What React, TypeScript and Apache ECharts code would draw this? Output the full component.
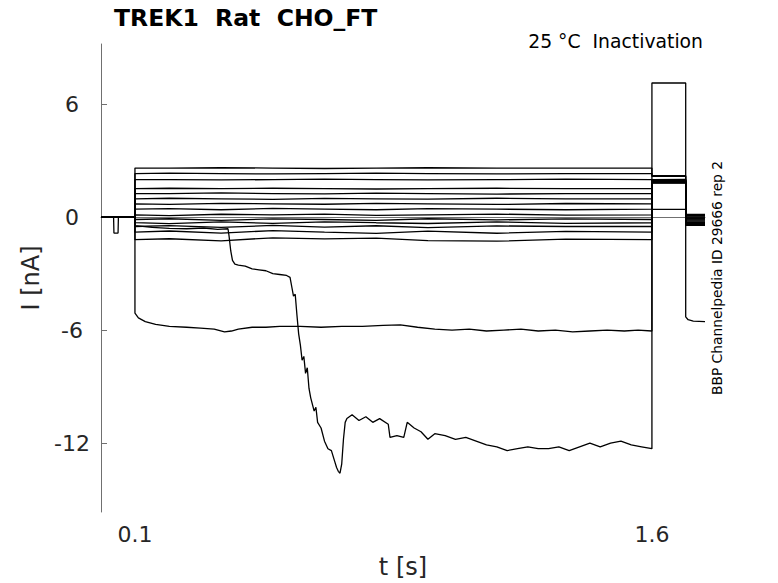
import React, { useEffect, useRef } from "react";
import * as echarts from "echarts";

// ---- axis ranges and tick values ----
const X_MIN = 0.0015;
const X_MAX = 1.754;
const Y_MIN = -15.66;
const Y_MAX = 9.19;
const xTicks = [0.1, 1.6];
const yTicks = [-12, -6, 0, 6];

// ---- protocol times (s) ----
const tOn = 0.1;
const tOff = 1.6;
const tTail = 1.698;

// ---- flat traces: level during step, after step, and tail ----
const stepLevels = [2.6, 2.31, 1.99, 1.51, 1.25, 0.97, 0.7, 0.42, 0.12, -0.13, -0.3, -0.5, -0.8, -1.2];
const postLevels = [2.2, 2.16, 2.0, 1.97, 1.93, 1.9, 1.87, 1.84, 1.8, 1.98, 1.95, 1.92, 1.88, 1.82];
const tailLevels = [0.14, 0.1, 0.05, 0.0, -0.05, -0.1, -0.15, -0.2, -0.25, -0.3, -0.35, -0.4, -0.44, 0.08];
const wiggleTimes = [0.2, 0.35, 0.5, 0.65, 0.8, 0.95, 1.15, 1.35];
const stepWiggle = [
  [0, 0.02, 0, -0.02, 0, 0.02, 0, 0],
  [0.02, 0, -0.02, 0, 0.02, 0, -0.02, 0],
  [0, -0.02, 0, 0.02, 0, -0.02, 0, 0.02],
  [0.02, 0, 0.02, 0, -0.02, 0, 0.02, 0],
  [0, 0.03, 0, -0.02, 0.02, 0, -0.03, 0],
  [0.03, 0, -0.03, 0.02, 0, -0.02, 0.03, 0],
  [-0.03, 0.03, 0, -0.02, 0.03, 0, -0.03, 0.02],
  [0.03, -0.03, 0.04, 0, -0.03, 0.03, 0, -0.03],
  [-0.04, 0.03, 0, 0.04, -0.03, 0, 0.04, -0.02],
  [0.04, -0.04, 0.03, 0, -0.04, 0.04, -0.02, 0.03],
  [-0.05, 0.04, -0.03, 0.05, 0, -0.04, 0.05, -0.03],
  [0.05, -0.05, 0.06, -0.03, 0.04, -0.06, 0.03, 0],
  [0.06, -0.05, 0.08, 0.0, -0.07, 0.05, -0.06, 0.04],
  [0.05, -0.06, 0.1, 0.04, 0.08, -0.05, -0.08, 0.03],
];

// ---- trace that settles near -6 nA ----
const midTimes = [0.1, 0.11, 0.13, 0.16, 0.2, 0.25, 0.29, 0.33, 0.36, 0.38, 0.4, 0.44, 0.48, 0.52, 0.58, 0.64, 0.7, 0.76, 0.82, 0.87, 0.92, 0.97, 1.02, 1.07, 1.12, 1.17, 1.22, 1.27, 1.32, 1.37, 1.42, 1.47, 1.52, 1.56, 1.6];
const midValues = [-5.1, -5.35, -5.55, -5.7, -5.8, -5.85, -5.9, -5.95, -6.1, -6.05, -5.95, -5.85, -5.85, -5.8, -5.8, -5.85, -5.8, -5.8, -5.75, -5.72, -5.85, -5.95, -6.0, -5.95, -6.05, -6.0, -5.95, -6.05, -6.0, -6.1, -6.05, -6.0, -6.05, -6.0, -6.05];
const midPost = 0.41;
const midTail = -0.1;

// ---- trace that collapses to about -12 nA ----
const bigTimes = [0.1, 0.15, 0.2, 0.25, 0.3, 0.34, 0.37, 0.373, 0.378, 0.383, 0.39, 0.4, 0.42, 0.44, 0.46, 0.48, 0.5, 0.52, 0.54, 0.55, 0.555, 0.56, 0.565, 0.57, 0.575, 0.58, 0.585, 0.59, 0.595, 0.6, 0.605, 0.61, 0.62, 0.625, 0.63, 0.64, 0.65, 0.66, 0.67, 0.68, 0.685, 0.69, 0.695, 0.7, 0.705, 0.71, 0.715, 0.73, 0.75, 0.77, 0.79, 0.81, 0.835, 0.84, 0.86, 0.88, 0.89, 0.91, 0.93, 0.95, 0.97, 1.0, 1.03, 1.06, 1.09, 1.12, 1.15, 1.18, 1.21, 1.24, 1.27, 1.3, 1.33, 1.36, 1.39, 1.42, 1.45, 1.48, 1.51, 1.54, 1.57, 1.6];
const bigValues = [-0.45, -0.55, -0.6, -0.62, -0.58, -0.65, -0.62, -1.0, -1.8, -2.3, -2.5, -2.55, -2.6, -2.75, -2.8, -2.85, -3.0, -3.05, -3.1, -3.2, -3.7, -4.2, -4.1, -5.2, -6.2, -6.8, -7.6, -7.4, -8.3, -8.0, -9.1, -9.6, -10.3, -10.1, -10.9, -11.2, -11.9, -12.3, -12.4, -13.0, -13.3, -13.5, -13.6, -13.1, -11.8, -10.9, -10.7, -10.5, -10.8, -10.6, -10.9, -10.7, -11.0, -11.7, -11.6, -11.7, -10.9, -11.2, -11.4, -11.8, -11.5, -11.6, -11.8, -11.7, -11.9, -12.1, -12.2, -12.4, -12.3, -12.2, -12.3, -12.3, -12.2, -12.4, -12.2, -12.0, -12.2, -12.0, -11.9, -12.1, -12.2, -12.3];
const bigPost = 7.12;
const bigTailTimes = [1.698, 1.705, 1.72, 1.754];
const bigTailValues = [-5.3, -5.45, -5.52, -5.55];

// ---- holding segment before the step ----
const holdLevel = 0;
const dipTimes = [0.038, 0.039, 0.051, 0.052];
const dipValues = [0, -0.85, -0.85, 0];

const FONT = "DejaVu Sans";
const TEXT = "#262626";
const AXIS = "#707070";

function buildSeries() {
  const series: any[] = [];
  const line = (data: number[][]) => ({
    type: "line",
    data,
    showSymbol: false,
    symbol: "none",
    silent: true,
    lineStyle: { color: "#000", width: 1.3 },
  });
  stepLevels.forEach((lvl, i) => {
    const d: number[][] = [[X_MIN, holdLevel], [tOn, holdLevel], [tOn, lvl]];
    wiggleTimes.forEach((t, k) => d.push([t, lvl + stepWiggle[i][k]]));
    d.push([tOff, lvl], [tOff, postLevels[i]], [tTail, postLevels[i]], [tTail, tailLevels[i]], [X_MAX, tailLevels[i]]);
    series.push(line(d));
  });
  // -6 trace with dip in holding segment
  const m: number[][] = [[X_MIN, holdLevel]];
  dipTimes.forEach((t, k) => m.push([t, dipValues[k]]));
  m.push([tOn, holdLevel]);
  midTimes.forEach((t, k) => m.push([t, midValues[k]]));
  m.push([tOff, midPost], [tTail, midPost], [tTail, midTail], [X_MAX, midTail]);
  series.push(line(m));
  // big trace
  const b: number[][] = [[X_MIN, holdLevel], [tOn, holdLevel]];
  bigTimes.forEach((t, k) => b.push([t, bigValues[k]]));
  b.push([tOff, bigPost], [tTail, bigPost]);
  bigTailTimes.forEach((t, k) => b.push([t, bigTailValues[k]]));
  series.push(line(b));
  return series;
}

export default function App() {
  const ref = useRef<HTMLDivElement>(null);
  useEffect(() => {
    if (!ref.current) return;
    const chart = echarts.init(ref.current, null, { renderer: "svg" });
    chart.setOption({
      animation: false,
      backgroundColor: "#fff",
      grid: { left: 101, right: 73, top: 44, bottom: 71, containLabel: false, outerBoundsMode: "none" },
      xAxis: {
        type: "value",
        min: X_MIN,
        max: X_MAX,
        name: "t [s]",
        nameLocation: "middle",
        nameGap: 55,
        nameTextStyle: { fontFamily: FONT, fontSize: 24, color: TEXT, verticalAlign: "middle" },
        axisLine: { show: true, lineStyle: { color: AXIS, width: 1 } },
        axisTick: { show: true, inside: true, length: 6, customValues: xTicks, lineStyle: { color: AXIS, width: 1 } },
        axisLabel: { customValues: xTicks, fontFamily: FONT, fontSize: 22, color: TEXT, margin: 11, formatter: (v: number) => v.toFixed(1) },
        splitLine: { show: false },
      },
      yAxis: {
        type: "value",
        min: Y_MIN,
        max: Y_MAX,
        name: "I [nA]",
        nameLocation: "middle",
        nameGap: 63,
        nameTextStyle: { fontFamily: FONT, fontSize: 24, color: TEXT, verticalAlign: "middle" },
        axisLine: { show: true, lineStyle: { color: AXIS, width: 1 } },
        axisTick: { show: true, inside: true, length: 6, customValues: yTicks, lineStyle: { color: AXIS, width: 1 } },
        axisLabel: { customValues: yTicks, fontFamily: FONT, fontSize: 22, color: TEXT, margin: 29, align: "center" },
        splitLine: { show: false },
      },
      graphic: [
        {
          type: "text",
          x: 114,
          y: 18,
          style: { text: "TREK1  Rat  CHO_FT", fontFamily: FONT, fontSize: 23.5, fontWeight: "bold", fill: "#000", align: "left", verticalAlign: "middle", textAlign: "left", textVerticalAlign: "middle" },
        },
        {
          type: "text",
          x: 703,
          y: 41,
          style: { text: "25 °C  Inactivation", fontFamily: FONT, fontSize: 18.8, fill: "#000", align: "right", verticalAlign: "middle", textAlign: "right", textVerticalAlign: "middle" },
        },
        {
          type: "text",
          x: 717,
          y: 278,
          rotation: Math.PI / 2,
          style: { text: "BBP Channelpedia ID 29666 rep 2", fontFamily: FONT, fontSize: 13.8, fill: "#000", align: "center", verticalAlign: "middle", textAlign: "center", textVerticalAlign: "middle" },
        },
      ],
      series: buildSeries(),
    });
    return () => chart.dispose();
  }, []);
  return <div ref={ref} style={{ position: "fixed", left: 0, top: 0, width: 778, height: 583 }} />;
}
